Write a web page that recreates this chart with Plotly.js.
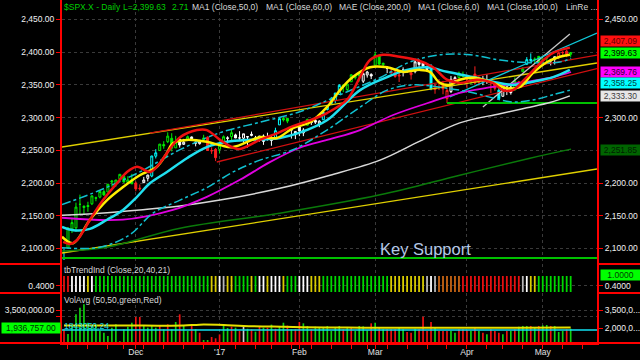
<!DOCTYPE html>
<html><head><meta charset="utf-8">
<script src="https://cdn.plot.ly/plotly-3.0.1.min.js"></script>
<style>html,body{margin:0;padding:0;background:#000;}#chart{width:640px;height:360px;}</style>
</head><body><div id="chart"></div>
<script>
// ---------- DATA ----------
const dates = ["2016-11-04","2016-11-07","2016-11-08","2016-11-09","2016-11-10","2016-11-11","2016-11-14","2016-11-15","2016-11-16","2016-11-17","2016-11-18","2016-11-21","2016-11-22","2016-11-23","2016-11-25","2016-11-28","2016-11-29","2016-11-30","2016-12-01","2016-12-02","2016-12-05","2016-12-06","2016-12-07","2016-12-08","2016-12-09","2016-12-12","2016-12-13","2016-12-14","2016-12-15","2016-12-16","2016-12-19","2016-12-20","2016-12-21","2016-12-22","2016-12-23","2016-12-27","2016-12-28","2016-12-29","2016-12-30","2017-01-03","2017-01-04","2017-01-05","2017-01-06","2017-01-09","2017-01-10","2017-01-11","2017-01-12","2017-01-13","2017-01-17","2017-01-18","2017-01-19","2017-01-20","2017-01-23","2017-01-24","2017-01-25","2017-01-26","2017-01-27","2017-01-30","2017-01-31","2017-02-01","2017-02-02","2017-02-03","2017-02-06","2017-02-07","2017-02-08","2017-02-09","2017-02-10","2017-02-13","2017-02-14","2017-02-15","2017-02-16","2017-02-17","2017-02-21","2017-02-22","2017-02-23","2017-02-24","2017-02-27","2017-02-28","2017-03-01","2017-03-02","2017-03-03","2017-03-06","2017-03-07","2017-03-08","2017-03-09","2017-03-10","2017-03-13","2017-03-14","2017-03-15","2017-03-16","2017-03-17","2017-03-20","2017-03-21","2017-03-22","2017-03-23","2017-03-24","2017-03-27","2017-03-28","2017-03-29","2017-03-30","2017-03-31","2017-04-03","2017-04-04","2017-04-05","2017-04-06","2017-04-07","2017-04-10","2017-04-11","2017-04-12","2017-04-13","2017-04-17","2017-04-18","2017-04-19","2017-04-20","2017-04-21","2017-04-24","2017-04-25","2017-04-26","2017-04-27","2017-04-28","2017-05-01","2017-05-02","2017-05-03","2017-05-04","2017-05-05","2017-05-08","2017-05-09","2017-05-10"];

const open = [2083.8,2100.6,2129.9,2131.6,2167.5,2162.7,2165.6,2168.3,2177.5,2178.6,
2186.9,2186.4,2201.6,2198.6,2206.3,2210.2,2200.8,2205.0,2200.2,2191.1,
2200.6,2207.3,2210.7,2241.1,2249.7,2258.8,2263.3,2268.4,2253.8,2266.8,
2259.2,2266.5,2270.5,2262.9,2260.2,2266.2,2270.2,2249.5,2251.6,2251.6,
2261.6,2268.2,2271.1,2273.6,2269.0,2268.6,2271.1,2272.7,2269.1,2269.1,
2271.9,2270.0,2267.8,2267.9,2288.9,2298.6,2299.0,2286.0,2274.0,2285.6,
2276.7,2288.5,2294.3,2295.9,2289.6,2296.7,2312.3,2321.7,2326.1,2335.6,
2349.6,2343.0,2354.9,2361.1,2367.5,2355.7,2365.2,2366.1,2380.1,2394.8,
2380.9,2375.2,2370.7,2369.8,2363.5,2372.5,2371.6,2368.6,2370.3,2387.7,
2383.7,2378.2,2379.3,2343.0,2346.0,2350.4,2329.1,2339.8,2356.5,2361.3,
2364.8,2362.3,2354.8,2366.6,2353.8,2356.6,2357.2,2354.0,2352.2,2342.0,
2332.6,2342.5,2346.8,2342.7,2354.7,2370.3,2381.5,2389.0,2389.7,2393.7,
2388.5,2391.1,2386.5,2393.0,2392.4,2399.9,2401.6,2396.8];
const high = [2099.1,2132.0,2146.9,2170.1,2182.3,2165.9,2171.4,2180.8,2179.2,2188.1,
2189.9,2198.7,2204.8,2204.7,2213.4,2211.1,2210.5,2214.1,2202.6,2197.9,
2209.4,2212.8,2241.6,2251.7,2259.8,2264.0,2277.5,2276.2,2272.1,2268.1,
2267.5,2272.6,2271.2,2263.2,2263.8,2273.8,2271.3,2254.5,2253.6,2263.9,
2272.8,2271.5,2282.1,2275.5,2279.3,2275.3,2271.8,2278.7,2272.1,2272.0,
2274.3,2277.0,2271.8,2284.6,2299.6,2301.0,2299.0,2286.0,2279.1,2289.1,
2284.0,2298.3,2296.2,2299.4,2295.9,2311.1,2319.2,2331.6,2337.6,2351.3,
2351.3,2351.2,2366.7,2365.1,2368.3,2367.3,2371.5,2367.8,2401.0,2394.8,
2383.9,2378.8,2375.1,2373.1,2369.1,2376.9,2374.4,2368.6,2390.0,2388.1,
2385.7,2379.6,2381.9,2351.8,2358.9,2356.2,2344.9,2363.8,2363.4,2370.4,
2370.4,2365.9,2360.5,2378.4,2364.2,2363.8,2366.4,2355.2,2352.7,2348.3,
2349.1,2348.4,2352.6,2361.4,2356.2,2377.0,2392.5,2398.2,2392.1,2393.7,
2394.5,2392.9,2389.8,2393.0,2399.3,2401.4,2403.9,2399.7];
const low = [2083.8,2100.6,2123.6,2125.4,2151.2,2152.5,2156.1,2166.4,2172.2,2176.7,
2180.4,2186.4,2194.5,2194.5,2206.3,2200.4,2198.8,2198.8,2187.4,2188.4,
2200.0,2202.5,2208.9,2237.6,2249.2,2252.4,2261.1,2248.4,2253.8,2254.2,
2258.2,2266.2,2265.2,2256.1,2258.8,2266.2,2249.1,2244.6,2233.6,2245.1,
2261.6,2260.5,2264.1,2268.8,2265.3,2260.8,2254.3,2271.5,2262.8,2263.4,
2258.4,2265.0,2257.0,2266.7,2288.9,2294.1,2291.6,2268.0,2267.2,2271.7,
2271.7,2287.9,2288.8,2290.2,2285.4,2296.6,2311.1,2321.4,2322.2,2334.8,
2338.9,2339.6,2354.9,2358.3,2355.1,2352.9,2361.2,2359.0,2380.1,2380.2,
2376.9,2368.0,2365.5,2361.0,2354.5,2363.0,2368.5,2358.2,2367.8,2377.2,
2377.6,2369.7,2341.9,2336.5,2342.1,2335.7,2322.3,2337.6,2353.3,2358.6,
2362.6,2344.7,2350.7,2350.5,2348.9,2349.6,2351.5,2337.3,2341.2,2329.0,
2332.5,2334.5,2335.1,2340.9,2344.5,2370.3,2381.2,2386.8,2382.4,2382.4,
2384.8,2385.8,2379.8,2381.2,2389.4,2393.6,2392.4,2392.8];
const close = [2085.2,2131.5,2139.6,2163.3,2167.5,2164.5,2164.2,2180.4,2176.9,2187.1,
2181.9,2198.2,2202.9,2204.7,2213.4,2201.7,2204.7,2198.8,2191.1,2192.0,
2204.7,2212.2,2241.4,2246.2,2259.5,2257.0,2271.7,2253.3,2262.0,2258.1,
2262.5,2270.8,2265.2,2261.0,2263.8,2268.9,2249.9,2249.3,2238.8,2257.8,
2270.8,2269.0,2277.0,2268.9,2268.9,2275.3,2270.4,2274.6,2267.9,2271.9,
2263.7,2271.3,2265.2,2280.1,2298.4,2296.7,2294.7,2280.9,2278.9,2279.6,
2280.9,2297.4,2292.6,2293.1,2294.7,2307.9,2316.1,2328.3,2337.6,2349.3,
2347.2,2351.2,2365.4,2362.8,2363.8,2367.3,2369.8,2363.6,2396.0,2381.9,
2383.1,2375.3,2368.4,2363.0,2364.9,2372.6,2373.5,2365.5,2385.3,2381.4,
2378.3,2373.5,2344.0,2348.5,2346.0,2344.0,2341.6,2358.6,2361.1,2368.1,
2362.7,2358.8,2360.2,2353.0,2357.5,2355.5,2357.2,2353.8,2344.9,2329.0,
2349.0,2342.2,2338.2,2355.8,2348.7,2374.2,2388.6,2387.5,2388.8,2384.2,
2388.3,2391.2,2388.1,2389.5,2399.3,2399.4,2396.9,2399.6];

// candle colour code per bar: c=cyan g=green r=red w=white
const candleCode = ("c"+"ggggggggggggggggg"+"rr"+"ww"+"cc"+"ggggg"+"ww"+"g"+"www"+"g"+"rrr"+"gg"+"w"+"g"+
  "wwwwwwwwww"+"cc"+"gg"+"wwww"+"g"+"www"+"ccccc"+"gg"+"ggg"+"www"+"ggg"+"w"+"rrr"+"ww"+"r"+"wwww"+"c"+
  "rrrr"+"ww"+"gg"+"r"+"g"+"rr"+"ww"+"rr"+"c"+"www"+"g"+"r"+"g"+"cc"+"gg"+"gg"+"ww"+"rrr"+"g").split("");

// volume (millions) and colour per bar
const volumeM = [1.90,1.50,2.17,3.14,3.69,3.97,2.44,2.17,2.17,1.75,
1.61,1.33,2.03,2.31,0.90,1.90,2.10,2.44,2.92,2.92,
2.17,2.03,2.17,2.03,2.17,1.89,2.31,1.89,2.50,3.14,
2.17,1.75,2.17,1.90,1.61,1.00,1.00,1.25,1.14,1.47,
2.22,2.00,2.11,2.03,1.75,2.11,1.94,1.89,1.70,2.11,
2.03,2.03,2.28,1.94,2.14,2.44,2.20,1.89,1.89,2.50,
2.39,2.17,1.89,2.11,2.03,2.03,2.17,1.75,2.03,2.17,
1.89,2.03,2.03,1.75,2.17,2.14,1.81,2.39,2.44,2.03,
1.89,1.89,1.89,1.89,2.03,1.89,1.67,1.61,1.94,1.89,
2.94,1.75,2.50,2.03,1.75,1.75,1.75,1.75,1.61,1.89,
1.89,1.81,1.75,2.03,1.75,1.61,1.47,1.89,1.75,1.61,
1.47,1.75,1.75,1.89,2.11,2.17,2.17,2.17,2.03,2.17,
2.22,2.25,2.17,2.17,1.67,1.75,1.89,1.94];
const volumeCode = ("r"+"ggggggggggggggggg"+"rr"+"gggg"+"r"+"g"+"r"+"gg"+"r"+"gg"+"r"+"g"+"r"+"gg"+"rrr"+"gg"+"r"+"g"+"r"+"w"+
  "g"+"r"+"g"+"r"+"g"+"r"+"g"+"r"+"gg"+"r"+"g"+"rr"+"gg"+"r"+"ggggggg"+"r"+"g"+"r"+"gggg"+"r"+"g"+"r"+"g"+"rrr"+
  "gg"+"rr"+"g"+"rrrr"+"g"+"rrr"+"gg"+"rrr"+"g"+"r"+"g"+"r"+"g"+"rrr"+"g"+"r"+"g"+"r"+"ggg"+"r"+"g"+"r"+"gg"+"r"+"ggg"+"r"+"g").split("");

// tbTrendInd state colour per bar: r red, w white, y yellow, g green, a grey, o orange
const trendCode = ("rr"+"wwww"+"y"+"w"+"gggggggggg"+"gggggggggg"+"ggggggggg"+"yy"+"wa"+"yy"+"gggg"+"y"+"g"+"ww"+"y"+"www"+"y"+
  "ggg"+"www"+"yyy"+"gg"+"gggggggggg"+"ggggg"+"yyyyyyyyy"+"awa"+"oooooo"+"rrrrrrrrrr"+"rrrrr"+"aw"+"yy"+"ggggggggg").split("");

// volume average (50) line, millions
const volAvgIdx = [0,10,20,30,34,40,45,55,66,75,85,95,105,115,127];
const volAvgM   = [2.20,2.20,2.20,2.20,2.28,2.25,2.17,2.10,2.04,2.03,2.02,2.03,2.03,2.03,2.04];
const volLevelM = 1.84305024;

// moving averages (bar index, price)
const redIdx = [-0.2,1.5,3.3,6.5,9.8,13.3,15.8,18.3,21.6,24.1,25.8,29.1,33.3,35.8,39.1,42.4,44.1,49.1,54.1,57.4,61.7,65.9,70.9,74.2,76.7,79.9,84.2,88.5,92.5,96,99.2,103.5,107.5,110,112.5,116,119.3,122.6,126.8];
const redVal = [2110,2107,2113,2144,2174,2200,2217,2225,2217,2231,2246,2270,2281,2281,2266,2254,2252,2266,2278,2287,2296,2307,2327,2362,2388,2396,2393,2388,2377,2358,2353,2358,2353,2342,2342,2362,2383,2399,2407];
const yelIdx = [-0.5,2.3,6.5,10.8,14.8,19.0,23.3,25.8,27.3,30.8,35.8,39.1,42.4,49.1,53.4,57.4,61.7,65.9,69.2,72.4,76.7,81.0,85.0,89.2,91.7,94.2,96.7,99.2,102.5,106.8,111.0,114.3,117.5,121.1,124.3,126.8];
const yelVal = [2118,2108,2144,2174,2194,2212,2225,2246,2261,2266,2263,2258,2255,2270,2269,2284,2293,2316,2342,2362,2377,2377,2370,2373,2370,2353,2350,2358,2361,2355,2345,2347,2368,2385,2393,2396];
const cyaIdx = [-0.5,2.3,6.5,10.8,14.8,18.3,21.6,25.8,30.8,35.8,40.9,45.9,50.9,54.1,59.1,65.9,74.2,81.0,86.0,91.0,96.0,102.5,107.5,112.5,117.5,122.6,126.8];
const cyaVal = [2133,2128,2130,2144,2159,2179,2200,2217,2238,2255,2263,2266,2267,2269,2277,2296,2342,2362,2373,2377,2370,2362,2355,2350,2355,2362,2373];
const envUpIdx = [-0.5,9.0,19.0,29.1,39.1,49.1,59.1,69.2,79.2,86.7,94.2,101.8,109.3,116.8,124.3,127.1];
const envUpVal = [2167,2189,2217,2251,2277,2293,2309,2335,2361,2385,2396,2396,2388,2384,2385,2391];
const envLoIdx = [-0.5,9.0,16.5,22.3,29.1,35.8,42.4,49.1,57.4,65.9,74.2,81.0,87.5,96.0,102.5,107.5,112.5,117.5,122.6,126.8];
const envLoVal = [2101,2102,2121,2154,2174,2193,2217,2235,2251,2281,2316,2342,2350,2345,2338,2330,2324,2327,2335,2342];
const ma50Idx = [-0.5,14.8,27.3,35.8,44.1,51.6,59.1,66.7,74.2,82.5,91.0,99.2,107.5,116.0,122.6,127.1];
const ma50Val = [2147,2144,2159,2179,2205,2232,2254,2267,2281,2304,2322,2338,2347,2355,2362,2369.76];
const ma100Idx = [-0.5,9.0,19.0,29.1,39.1,54.1,66.7,79.2,89.2,99.2,109.3,116.0,121.8,126.8];
const ma100Val = [2151,2154,2159,2165,2174,2192,2212,2235,2264,2292,2306,2315,2323,2333.3];
const ma200Idx = [-0.5,10.8,29.1,54.1,79.2,99.2,116.8,127.1];
const ma200Val = [2096,2102,2131,2154,2182,2212,2238,2251.85];

// straight channel / regression lines (bar index, price)
const yelUpLine = {i:[-0.5,133.6], p:[2255.1,2383.5]};
const yelLoLine = {i:[-0.5,133.6], p:[2093.1,2221.5]};
const redUpLine = {i:[21.5,133.6], p:[2276.4,2395.7]};
const redLoLine = {i:[38.3,133.6], p:[2232.2,2375.0]};
const greyLine  = {i:[105,126.8],  p:[2316.3,2428.0]};
const cyanLine  = {i:[96.7,133.6], p:[2331.6,2429.4]};
const supportShort = {i:[96,133.6], p:[2322.4,2322.4]};
const keySupport   = {i:[-0.5,133.6], p:[2085.5,2085.5]};

// axis ticks
const monthIdx = [18,39,59,78,101,120];
const monthLabels = ["Dec","'17","Feb","Mar","Apr","May"];
const weekIdx = [1,6,11,15,18,20,25,30,35,39,43,48,52,57,59,62,67,72,76,78,81,86,91,96,101,106,110,115,120,125,130];
const priceTicks = [2100,2150,2200,2250,2300,2350,2400,2450];
const priceTicksRight = [2100,2150,2200,2300,2450];

// ---------- BUILD ----------
const W = 535, H = 343, L = 62;
const px = v => (v - L) / W;
const py = v => 1 - v / H;
const idx = dates.map((d, i) => i);

const cMap = {c:'#00ffff', g:'#00ee00', r:'#ff2020', w:'#ffffff'};
const tMap = {r:'#e81010', w:'#ffffff', y:'#d8cc00', g:'#00d800', a:'#b8b8b8', o:'#c86414'};
const vMap = {r:'#f01010', g:'#10d010', w:'#d0d0d0'};

const traces = [];
function line(xs, ys, color, width, opts) {
  opts = opts || {};
  traces.push({type:'scatter', mode:'lines', x:xs, y:ys, xaxis:'x', yaxis:opts.yaxis||'y',
    line:{color:color, width:width, dash:opts.dash||'solid', shape:opts.shape||'linear', smoothing:1},
    hoverinfo:'skip'});
}
// channels
line(yelUpLine.i, yelUpLine.p, '#e0d000', 1.3);
line(yelLoLine.i, yelLoLine.p, '#e0d000', 1.3);
line(redUpLine.i, redUpLine.p, '#d01010', 1.3);
line(redLoLine.i, redLoLine.p, '#d01010', 1.3);
line(greyLine.i, greyLine.p, '#c8c8c8', 1.3);
line(cyanLine.i, cyanLine.p, '#10c8d8', 1.3);
line(keySupport.i, keySupport.p, '#00c000', 2.2);
line(supportShort.i, supportShort.p, '#00c000', 2.2);
// averages
line(ma200Idx, ma200Val, '#0a7a0a', 1.5, {shape:'spline'});
line(ma100Idx, ma100Val, '#d8d8d8', 1.5, {shape:'spline'});
line(ma50Idx, ma50Val, '#e000e0', 1.8, {shape:'spline'});
line(envUpIdx, envUpVal, '#10c0d0', 1.5, {shape:'spline', dash:'dashdot'});
line(envLoIdx, envLoVal, '#10c0d0', 1.5, {shape:'spline', dash:'dashdot'});
line(cyaIdx, cyaVal, '#20e0f0', 2.5, {shape:'spline'});

// candles, one trace per colour
Object.keys(cMap).forEach(code => {
  const sel = idx.filter(i => candleCode[i] === code);
  const col = cMap[code];
  traces.push({type:'candlestick', xaxis:'x', yaxis:'y',
    x: sel, open: sel.map(i => open[i]), high: sel.map(i => high[i]),
    low: sel.map(i => low[i]), close: sel.map(i => close[i]),
    increasing:{line:{color:col, width:1}, fillcolor:'#000000'},
    decreasing:{line:{color:col, width:1}, fillcolor:col},
    whiskerwidth:0, hoverinfo:'skip', showlegend:false});
});
line(yelIdx, yelVal, '#ffee00', 2.5, {shape:'spline'});
line(redIdx, redVal, '#ee1010', 2.5, {shape:'spline'});

// trend indicator
traces.push({type:'bar', xaxis:'x', yaxis:'y2', x: idx, y: idx.map(() => 1), base: 0, width: 0.45,
  marker:{color: trendCode.map(c => tMap[c]), line:{width:0}}, hoverinfo:'skip'});
// volume
traces.push({type:'bar', xaxis:'x', yaxis:'y3', x: idx, y: volumeM, width: 0.42,
  marker:{color: volumeCode.map(c => vMap[c]), line:{width:0}}, hoverinfo:'skip'});
line(volAvgIdx, volAvgM, '#e6e000', 2, {yaxis:'y3', shape:'spline'});
line([-0.5,133.6], [volLevelM, volLevelM], '#10e0f0', 1.5, {yaxis:'y3'});
// dummy points so right-side axes render
['y4','y5','y6'].forEach((ya, k) => traces.push({type:'scatter', mode:'markers', xaxis:'x', yaxis:ya,
  x:[0], y:[[2300,0.5,2][k]], marker:{opacity:0}, hoverinfo:'skip'}));

const red = '#ff0000';
const tickFont = {family:'Liberation Sans, Arial, sans-serif', size:8.5, color:'#f0f0f0'};
const baseY = {ticks:'outside', ticklen:4, tickcolor:red, tickwidth:1, showline:true, linecolor:red, linewidth:2,
  zeroline:false, tickfont:tickFont, fixedrange:true, gridcolor:'#3a3a3a', griddash:'dot', gridwidth:1};
const dPrice = [py(264), 1], dTrend = [py(293), py(264)], dVol = [0, py(293)];
const rPrice = [2076.3, 2479.8], rTrend = [-0.0625, 1.75], rVol = [0.75, 4.917];

const ann = [];
function text(t, x, y, color, size, anchor) {
  ann.push({text:t, xref:'paper', yref:'paper', x:px(x), y:py(y), xanchor:anchor||'left', yanchor:'middle',
    showarrow:false, font:{family:'Liberation Sans, Arial, sans-serif', size:size||8.5, color:color}, borderpad:0});
}
function badge(t, x, y, bg, color, w) {
  ann.push({text:t, xref:'paper', yref:'paper', x:px(x), y:py(y), xanchor:'left', yanchor:'middle',
    showarrow:false, bgcolor:bg, width:w||39, height:10, borderpad:0, align:'center',
    font:{family:'Liberation Sans, Arial, sans-serif', size:8.5, color:color}});
}
const G = '#00cc00', T = '#d8d8d8';
text('$SPX.X - Daily', 63, 7, G); text('L=2,399.63', 122, 7, G); text('2.71', 171, 7, G);
text('MA1 (Close,50,0)', 191, 7, T); text('MA1 (Close,60,0)', 265, 7, T);
text('MAE (Close,200,0)', 338, 7, T); text('MA1 (Close,6,0)', 417, 7, T);
text('MA1 (Close,100,0)', 486, 7, T); text('LinRe ...', 565, 7, T);
text('tbTrendInd (Close,20,40,21)', 63, 270, T);
text('VolAvg (50,50,green,Red)', 63, 299.5, T);
text('1843050.24', 63, 325.5, '#10d8e8');
text('Key Support', 425, 249, '#b4c8e6', 16.5, 'center');
badge('2,407.09', 600, 41.5, '#ff1010', '#600000');
badge('2,399.63', 600, 52.5, '#00ff00', '#000000');
badge('2,369.76', 600, 72, '#ff00ff', '#300030');
badge('2,358.25', 600, 83, '#00ffff', '#004040');
badge('2,333.30', 600, 96, '#e6e6e6', '#404040');
badge('2,251.85', 600, 150, '#006400', '#002000');
badge('1.0000', 600, 274.5, '#00ff00', '#004000');
badge('1,936,757.00', 1, 327.7, '#00ff00', '#003000', 58);

const shapes = [];
function hline(x0, x1, y) {
  shapes.push({type:'line', xref:'paper', yref:'paper', x0:px(x0), x1:px(x1), y0:py(y), y1:py(y), line:{color:red, width:2}});
}
hline(0, 62, 264); hline(0, 62, 293); hline(597, 640, 264); hline(597, 640, 293); hline(0, 640, 343);

const layout = {
  width:640, height:360, margin:{l:62, r:43, t:0, b:17, pad:0},
  paper_bgcolor:'#000000', plot_bgcolor:'#000000', showlegend:false, barmode:'overlay',
  font:{family:'Liberation Sans, Arial, sans-serif', size:8.5, color:'#f0f0f0'},
  xaxis:{range:[-0.5,133.6], anchor:'y3', tickmode:'array', tickvals:monthIdx, ticktext:monthLabels,
    ticks:'outside', ticklen:0, tickcolor:red, showline:true, linecolor:red, linewidth:2, zeroline:false,
    showgrid:true, gridcolor:'#3a3a3a', griddash:'dot', rangeslider:{visible:false}, fixedrange:true,
    tickfont:{family:'Liberation Sans, Arial, sans-serif', size:8.5, color:'#e0e0e0'},
    minor:{tickmode:'array', tickvals:weekIdx, ticks:'outside', ticklen:4, tickcolor:red, showgrid:false}},
  yaxis:Object.assign({}, baseY, {domain:dPrice, range:rPrice, tickmode:'array', tickvals:priceTicks, tickformat:',.2f', anchor:'x'}),
  yaxis2:Object.assign({}, baseY, {domain:dTrend, range:rTrend, tickmode:'array', tickvals:[0.4], ticktext:['0.4000'], anchor:'x'}),
  yaxis3:Object.assign({}, baseY, {domain:dVol, range:rVol, tickmode:'array', tickvals:[3.0,3.5], ticktext:['','3,500,000.00'], anchor:'x'}),
  yaxis4:Object.assign({}, baseY, {overlaying:'y', side:'right', range:rPrice, tickmode:'array', tickvals:priceTicksRight, tickformat:',.2f', showgrid:false, anchor:'x'}),
  yaxis5:Object.assign({}, baseY, {overlaying:'y2', side:'right', range:rTrend, tickmode:'array', tickvals:[0.4], ticktext:['0.4000'], showgrid:false, anchor:'x'}),
  yaxis6:Object.assign({}, baseY, {overlaying:'y3', side:'right', range:rVol, tickmode:'array', tickvals:[2.0,3.5], ticktext:['2,000,0...','3,500,0...'], showgrid:false, anchor:'x'}),
  annotations:ann, shapes:shapes
};
Plotly.newPlot('chart', traces, layout, {staticPlot:true, displayModeBar:false});
</script></body></html>
